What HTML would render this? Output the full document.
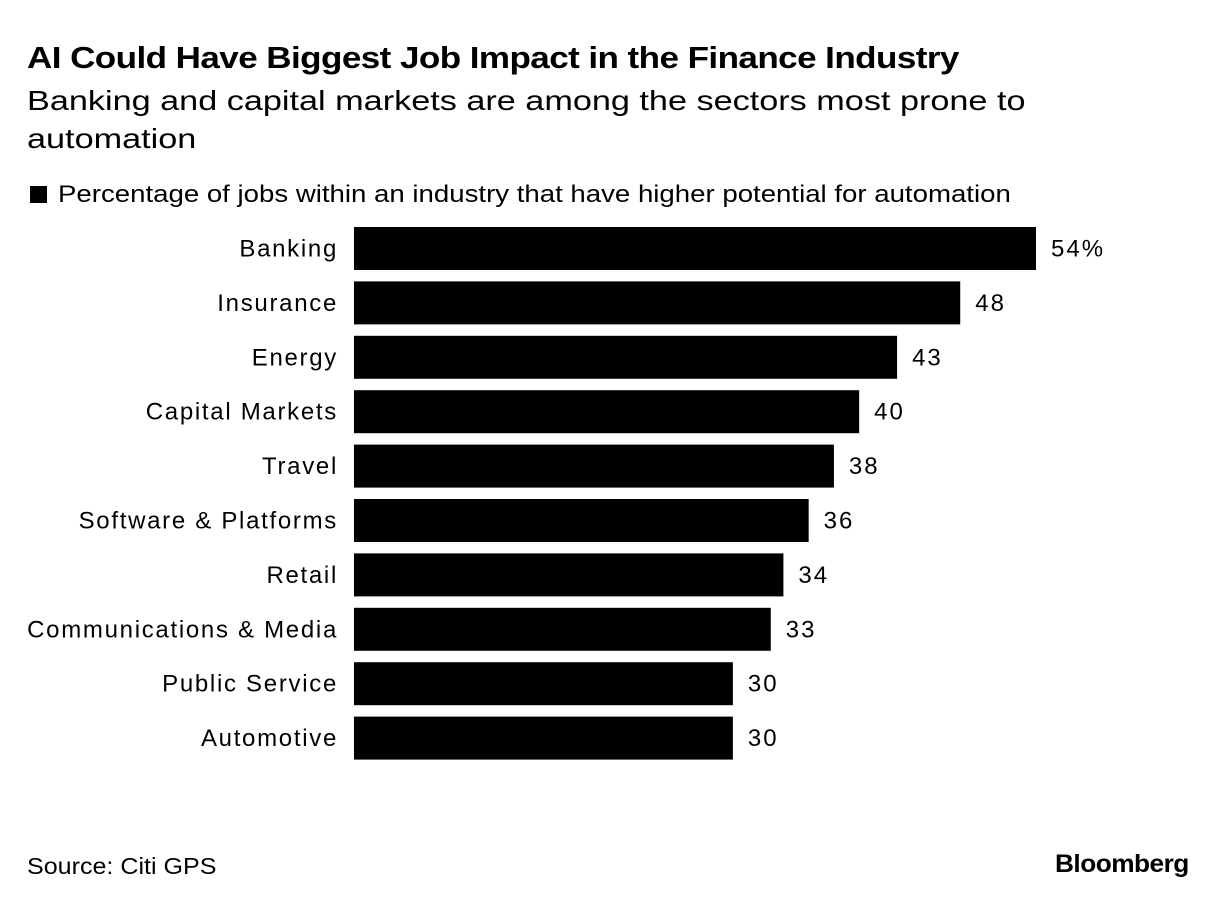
<!DOCTYPE html>
<html><head><meta charset="utf-8"><style>
body{margin:0;background:#fff;width:1225px;height:908px;overflow:hidden;font-family:"Liberation Sans",sans-serif;color:#000}
.t{position:absolute;white-space:nowrap;transform-origin:0 0}
</style></head><body>
<div class="t" style="left:27px;top:40px;font-size:31px;font-weight:bold;letter-spacing:-0.5px;transform:scaleX(1.13)">AI Could Have Biggest Job Impact in the Finance Industry</div>
<div class="t" style="left:27px;top:82px;font-size:28px;line-height:38px;transform:scaleX(1.222)">Banking and capital markets are among the sectors most prone to<br>automation</div>
<div class="t" style="left:30px;top:181px;font-size:24px"><span style="display:inline-block;width:17px;height:17px;background:#000;margin-right:11px;vertical-align:-1px"></span><span style="display:inline-block;transform:scaleX(1.15);transform-origin:0 0">Percentage of jobs within an industry that have higher potential for automation</span></div>
<svg id="chart" width="1225" height="908" style="position:absolute;left:0;top:0"></svg>
<div class="t" style="left:27px;top:853px;font-size:23px;transform:scaleX(1.09)">Source: Citi GPS</div>
<div class="t" style="left:1055px;top:850px;font-size:25px;font-weight:bold;letter-spacing:-0.5px;transform:scaleX(1.05)">Bloomberg</div>
<script>
const categories=["Banking","Insurance","Energy","Capital Markets","Travel","Software & Platforms","Retail","Communications & Media","Public Service","Automotive"];
const values=[54,48,43,40,38,36,34,33,30,30];
const valueLabels=["54%","48","43","40","38","36","34","33","30","30"];
const svg=document.getElementById('chart');
const NS="http://www.w3.org/2000/svg";
const x0=354, scale=(1036-354)/54;
const xs=v=>x0+v*scale;
const ys=i=>227+i*54.4;
const bh=43;
categories.forEach((c,i)=>{
  const r=document.createElementNS(NS,'rect');
  r.setAttribute('x',x0);r.setAttribute('y',ys(i));
  r.setAttribute('width',xs(values[i])-x0);r.setAttribute('height',bh);
  r.setAttribute('fill','#000');
  
  
  svg.appendChild(r);
  const l=document.createElementNS(NS,'text');
  l.setAttribute('x',338);l.setAttribute('y',ys(i)+bh/2+8);
  l.setAttribute('text-anchor','end');l.setAttribute('font-size','24');
  l.setAttribute('letter-spacing','1.7');
  l.setAttribute('font-family','Liberation Sans, sans-serif');
  l.textContent=c;
  
  
  svg.appendChild(l);
  const v=document.createElementNS(NS,'text');
  v.setAttribute('x',xs(values[i])+15);v.setAttribute('y',ys(i)+bh/2+8);
  v.setAttribute('font-size','24');
  v.setAttribute('letter-spacing','2');
  v.setAttribute('font-family','Liberation Sans, sans-serif');
  v.textContent=valueLabels[i];
  
  
  svg.appendChild(v);
});
</script>
</body></html>
